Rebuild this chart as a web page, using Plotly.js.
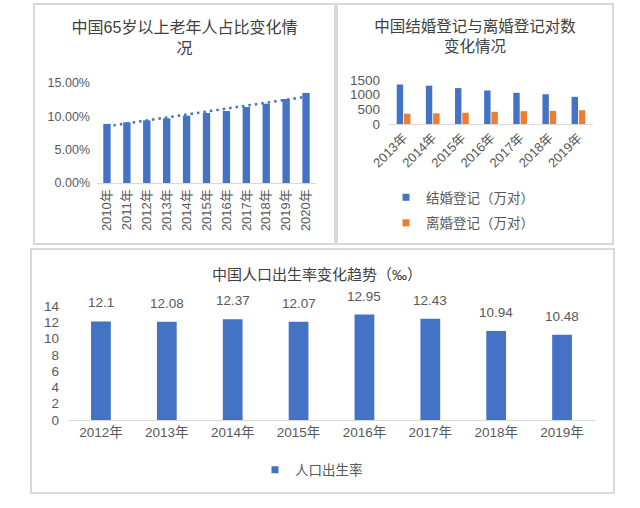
<!DOCTYPE html>
<html><head><meta charset="utf-8">
<script src="https://cdn.plot.ly/plotly-3.0.1.min.js"></script>
<style>
body{margin:0;background:#fff;width:640px;height:508px;position:relative;overflow:hidden}
.panel{position:absolute}
.frame{position:absolute;border:2px solid #d9d9d9;box-sizing:border-box;pointer-events:none}
</style></head><body>
<div id="c1" class="panel" style="left:34px;top:4px;width:301px;height:240px"></div>
<div id="c2" class="panel" style="left:337px;top:4px;width:276px;height:240px"></div>
<div id="c3" class="panel" style="left:31px;top:249px;width:583px;height:244px"></div>
<div class="frame" style="left:33px;top:3px;width:303px;height:242px"></div>
<div class="frame" style="left:336px;top:3px;width:278px;height:242px"></div>
<div class="frame" style="left:30px;top:248px;width:585px;height:246px"></div>
<script>
// ---- data ----
const elderYears = ['2010年','2011年','2012年','2013年','2014年','2015年','2016年','2017年','2018年','2019年','2020年'];
const elderShare = [0.0887,0.091,0.094,0.097,0.101,0.105,0.108,0.114,0.119,0.126,0.135];

const marriageYears = ['2013年','2014年','2015年','2016年','2017年','2018年','2019年'];
const marriageReg = [1346.9,1306.7,1224.7,1142.8,1063.1,1013.9,927.3];
const divorceReg = [350.0,363.7,384.1,415.8,437.4,446.1,470.1];

const birthYears = ['2012年','2013年','2014年','2015年','2016年','2017年','2018年','2019年'];
const birthRate = [12.1,12.08,12.37,12.07,12.95,12.43,10.94,10.48];

// ---- styles ----
const FONT = "'Liberation Sans', 'Noto Sans CJK SC', sans-serif";
const BLUE = '#4472C4', ORANGE = '#ED7D31', GRAY = '#595959', TITLE = '#404040', AXIS = '#d9d9d9';
const cfg = {staticPlot:true, displayModeBar:false};

// linear trendline (least squares over category index)
const n = elderShare.length;
const xm = (n-1)/2;
const ym = elderShare.reduce((a,b)=>a+b,0)/n;
let sxy=0, sxx=0;
elderShare.forEach((v,i)=>{sxy+=(i-xm)*(v-ym); sxx+=(i-xm)*(i-xm);});
const slope = sxy/sxx, icpt = ym - slope*xm;
const trend = elderShare.map((v,i)=>icpt+slope*i);

// ---- chart 1 ----
Plotly.newPlot('c1', [
  {type:'bar', x:elderYears, y:elderShare, marker:{color:BLUE}, showlegend:false},
  {type:'scatter', mode:'lines', x:elderYears, y:trend, line:{color:BLUE, width:2.5, dash:'2.5px,4px'}, showlegend:false}
], {
  width:301, height:240,
  margin:{l:63, r:19, t:79, b:61, pad:0, autoexpand:false},
  paper_bgcolor:'#fff', plot_bgcolor:'#fff',
  font:{family:FONT, color:GRAY},
  title:{text:'中国65岁以上老年人占比变化情<br>况', font:{size:16, color:TITLE, family:FONT}, x:0.5, xref:'container', xanchor:'center', y:1-29/240, yref:'container', yanchor:'top'},
  showlegend:false,
  bargap:0.63,
  xaxis:{type:'category', showline:true, linecolor:AXIS, linewidth:1, ticks:'', tickangle:-90, tickfont:{size:13}, showgrid:false, zeroline:false},
  yaxis:{range:[0,0.15], tickvals:[0,0.05,0.1,0.15], tickformat:'.2%', showgrid:false, zeroline:false, showline:false, ticks:'', tickfont:{size:12.5}, ticklabelstandoff:6}
}, cfg);

// ---- chart 2 ----
Plotly.newPlot('c2', [
  {type:'bar', x:marriageYears, y:marriageReg, name:'结婚登记（万对）', marker:{color:BLUE}, showlegend:false},
  {type:'bar', x:marriageYears, y:divorceReg, name:'离婚登记（万对）', marker:{color:ORANGE}, showlegend:false},
  {type:'scatter', mode:'markers', x:[null], y:[null], name:'结婚登记（万对）', legendgroup:'a', marker:{color:BLUE, symbol:'square', size:7}},
  {type:'scatter', mode:'markers', x:[null], y:[null], name:'离婚登记（万对）', legendgroup:'b', marker:{color:ORANGE, symbol:'square', size:7}}
], {
  width:276, height:240,
  margin:{l:52, r:20, t:76, b:120, pad:0, autoexpand:false},
  paper_bgcolor:'#fff', plot_bgcolor:'#fff',
  font:{family:FONT, color:GRAY},
  title:{text:'中国结婚登记与离婚登记对数<br>变化情况', font:{size:15.5, color:TITLE, family:FONT}, x:0.5, xref:'container', xanchor:'center', y:1-28/240, yref:'container', yanchor:'top'},
  barmode:'group', bargap:0.5, bargroupgap:0.12,
  showlegend:true,
  legend:{x:49/276, xref:'container', xanchor:'left', y:1-206.5/240, yref:'container', yanchor:'middle', orientation:'v', font:{size:13.5, color:GRAY}, itemsizing:'trace', traceorder:'grouped', tracegroupgap:5, bgcolor:'rgba(0,0,0,0)'},
  xaxis:{type:'category', showline:true, linecolor:AXIS, linewidth:1, ticks:'', tickangle:-45, tickfont:{size:13}, showgrid:false, zeroline:false},
  yaxis:{range:[0,1500], dtick:500, showgrid:false, zeroline:false, showline:false, ticks:'', tickfont:{size:13.5}, ticklabelstandoff:8}
}, cfg);

// ---- chart 3 ----
const birthLabels = birthYears.map((c,i)=>({x:c, y:birthRate[i], text:String(birthRate[i]), showarrow:false, yanchor:'bottom', yshift:9, font:{size:13.5, color:GRAY, family:FONT}}));
Plotly.newPlot('c3', [
  {type:'bar', x:birthYears, y:birthRate, name:'人口出生率', marker:{color:BLUE}, showlegend:false, cliponaxis:false},
  {type:'scatter', mode:'markers', x:[null], y:[null], name:'人口出生率', marker:{color:BLUE, symbol:'square', size:7}}
], {
  width:583, height:244,
  margin:{l:37, r:19, t:57, b:73, pad:0, autoexpand:false},
  paper_bgcolor:'#fff', plot_bgcolor:'#fff',
  font:{family:FONT, color:GRAY},
  title:{text:'中国人口出生率变化趋势（‰）', font:{size:15, color:TITLE, family:FONT}, x:286/583, xref:'container', xanchor:'center', y:1-26/244, yref:'container', yanchor:'middle'},
  bargap:0.7,
  showlegend:true,
  legend:{x:224/583, xref:'container', xanchor:'left', y:1-221/244, yref:'container', yanchor:'middle', orientation:'h', font:{size:13.5, color:GRAY}, itemsizing:'trace', bgcolor:'rgba(0,0,0,0)'},
  annotations:birthLabels,
  xaxis:{type:'category', showline:true, linecolor:AXIS, linewidth:1, ticks:'', tickfont:{size:13.5}, showgrid:false, zeroline:false},
  yaxis:{range:[0,14], dtick:2, showgrid:false, zeroline:false, showline:false, ticks:'', tickfont:{size:13.5}, ticklabelstandoff:8}
}, cfg);
</script>
</body></html>
